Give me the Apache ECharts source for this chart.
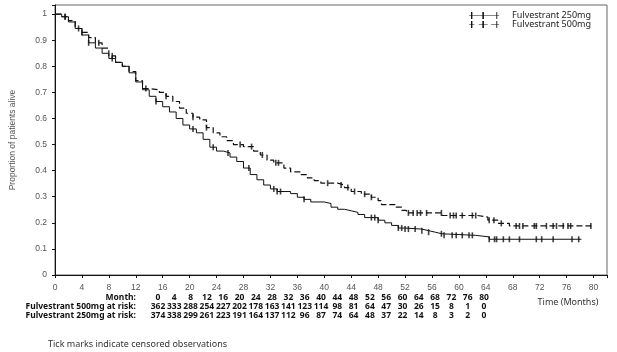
<!DOCTYPE html>
<html>
<head>
<meta charset="utf-8">
<script src="https://cdn.jsdelivr.net/npm/echarts@6/dist/echarts.min.js"></script>
<style>
  html, body { margin: 0; padding: 0; background: #fff; }
  #km { width: 617px; height: 352px; }
</style>
</head>
<body>
<div id="km"></div>
<script>
// Kaplan-Meier step points [month, proportion alive]
const steps250 = [[0,1],[1,0.99],[2,0.97],[3,0.945],[4,0.92],[5,0.89],[6,0.87],[7,0.85],[8,0.83],[9,0.815],
  [10,0.8],[11,0.775],[12,0.74],[13,0.71],[14,0.685],[15,0.665],[16,0.645],[17,0.625],[18,0.6],[19,0.575],
  [20,0.56],[21,0.545],[22,0.52],[23,0.49],[24,0.475],[25,0.468],[26,0.452],[27,0.435],[28,0.41],[29,0.385],
  [30,0.365],[31,0.345],[32,0.33],[33,0.32],[35,0.312],[36,0.298],[37,0.29],[38,0.28],[40,0.274],[41,0.26],
  [42,0.252],[43,0.246],[44,0.24],[45,0.232],[46,0.22],[48,0.21],[49,0.2],[50,0.19],[51,0.18],[52,0.176],
  [54.5,0.17],[55.5,0.164],[56.5,0.158],[57.5,0.152],[62.5,0.146],[64.5,0.137],[78.2,0.137]];
const steps500 = [[0,1],[1,0.99],[2,0.975],[3,0.945],[4,0.93],[5,0.91],[6,0.89],[7,0.87],[8,0.84],[9,0.815],
  [10,0.8],[11,0.78],[12,0.745],[13,0.715],[14,0.71],[15.5,0.7],[16.5,0.685],[17.5,0.665],[18.5,0.64],[19.5,0.62],
  [20.5,0.605],[21.5,0.595],[22.5,0.565],[23.5,0.545],[24.5,0.53],[25.5,0.515],[26.5,0.5],[28,0.492],[29.5,0.475],
  [30.5,0.46],[31.5,0.44],[32.5,0.43],[34,0.41],[35,0.395],[36.5,0.385],[37.5,0.372],[38.5,0.362],[39.5,0.352],
  [42,0.345],[43,0.335],[44,0.32],[45.5,0.31],[47,0.298],[48,0.285],[48.5,0.27],[50.5,0.26],[51.5,0.248],
  [52.2,0.238],[57.5,0.228],[62.8,0.222],[64.3,0.21],[65.8,0.198],[67.5,0.188],[79.8,0.188]];

// censored observation times (months)
const censor250 = [1.5,3.5,5,8.5,15,20.5,23.5,25.7,28.8,32.5,33,33.5,37,47,47.5,48,51,51.5,52,52.5,53.5,
  54.5,55.5,57.4,57.8,59,59.6,60.5,61.5,62,64.5,65.3,65.6,66.6,67.5,69,71.5,72.3,74,76.8,77.8];
const censor500 = [1.5,4,6.5,8.5,13.5,16.5,20.5,22.5,27.5,29.2,30.8,32.8,33.2,40.5,42.5,43.5,44.5,46,47,
  52.5,53.2,53.8,54.3,55.2,57.4,58.7,59.2,59.6,60.5,62,62.5,64.5,65.2,66.3,68.5,69,69.5,71.2,71.5,73,74,
  74.5,75.5,76.2,76.6,79.6];

// number at risk table
const riskMonths = [0,4,8,12,16,20,24,28,32,36,40,44,48,52,56,60,64,68,72,76,80];
const risk500 = [362,333,288,254,227,202,178,163,141,123,114,98,81,64,47,30,26,15,8,1,0];
const risk250 = [374,338,299,261,223,191,164,137,112,96,87,74,64,48,37,22,14,8,3,2,0];

const xTicks = [0,4,8,12,16,20,24,28,32,36,40,44,48,52,56,60,64,68,72,76,80];

function survivalAt(steps, t) {
  let s = steps[0][1];
  for (const p of steps) { if (p[0] <= t) s = p[1]; }
  return s;
}

const tableFont = '"Noto Sans", sans-serif';
const axisFont = '"Liberation Sans", Arial, sans-serif';
const cellFont = 'bold 8.5px ' + tableFont;

const graphics = [];
function addText(text, x, y, align, font, fill) {
  graphics.push({ type: 'text', style: { text: text, x: x, y: y, align: align, verticalAlign: 'middle',
    font: font, fill: fill } });
}
addText('Month:', 136, 298, 'right', cellFont, '#111');
addText('Fulvestrant 500mg at risk:', 136, 307, 'right', cellFont, '#111');
addText('Fulvestrant 250mg at risk:', 136, 316, 'right', cellFont, '#111');
riskMonths.forEach((m, i) => {
  const cx = 158 + i * 16.3;
  addText(String(m), cx, 298, 'center', cellFont, '#111');
  addText(String(risk500[i]), cx, 307, 'center', cellFont, '#111');
  addText(String(risk250[i]), cx, 316, 'center', cellFont, '#111');
});
addText('Time (Months)', 568, 302, 'center', '9px ' + tableFont, '#333');
addText('Tick marks indicate censored observations', 48, 344, 'left', '9px ' + tableFont, '#333');

const icon250 = 'path://M0,3.6h34v0.8h-34z M2,0h1.6v8h-1.6z M15,0h1.8v8h-1.8z M31,0h1v8h-1z';
const icon500 = 'path://M0,3.6h6v0.8h-6z M11,3.6h10v0.8h-10z M25,3.6h9v0.8h-9z M2,0h1.6v8h-1.6z M15,0h1.8v8h-1.8z M31,0h1v8h-1z';

const option = {
  animation: false,
  backgroundColor: '#fff',
  grid: { left: 49, top: 5, right: 10, bottom: 77, show: true, borderColor: '#666', borderWidth: 1 },
  legend: {
    right: 26, top: 11, orient: 'vertical', itemGap: 0, itemWidth: 34, itemHeight: 7, padding: 0,
    textStyle: { fontFamily: tableFont, fontSize: 9, color: '#222', lineHeight: 8, padding: [0, 0, 0, 6] },
    data: [
      { name: 'Fulvestrant 250mg', icon: icon250, itemStyle: { color: '#111' } },
      { name: 'Fulvestrant 500mg', icon: icon500, itemStyle: { color: '#111' } }
    ]
  },
  xAxis: {
    type: 'value', min: 0, max: 82, interval: 4,
    axisLine: { lineStyle: { color: '#111' } },
    axisTick: { length: 3, lineStyle: { color: '#111' } },
    splitLine: { show: false },
    axisLabel: {
      margin: 8, fontSize: 8.5, color: '#555', fontFamily: axisFont,
      formatter: v => (xTicks.indexOf(v) >= 0 ? String(v) : '')
    }
  },
  yAxis: {
    type: 'value', min: 0, max: 1.035, interval: 0.1,
    name: 'Proportion of patients alive', nameLocation: 'middle', nameGap: 38,
    nameTextStyle: { fontSize: 8.5, color: '#555', fontFamily: axisFont },
    axisLine: { show: true, lineStyle: { color: '#111' } },
    axisTick: { show: true, length: 3, lineStyle: { color: '#111' } },
    splitLine: { show: false },
    axisLabel: {
      margin: 8, fontSize: 8.5, color: '#555', fontFamily: axisFont,
      formatter: v => (v > 1.001 ? '' : String(Math.round(v * 10) / 10))
    }
  },
  series: [
    {
      name: 'Fulvestrant 250mg', type: 'line', step: 'end', symbol: 'none',
      lineStyle: { color: '#111', width: 1 }, itemStyle: { color: '#111' },
      data: steps250
    },
    {
      name: 'Fulvestrant 500mg', type: 'line', step: 'end', symbol: 'none',
      lineStyle: { color: '#111', width: 1.2, type: [6, 3] }, itemStyle: { color: '#111' },
      data: steps500
    },
    {
      name: 'censor250', type: 'scatter', symbol: 'rect', symbolSize: [1.6, 6],
      itemStyle: { color: '#111' }, silent: true,
      data: censor250.map(t => [t, survivalAt(steps250, t)])
    },
    {
      name: 'censor500', type: 'scatter', symbol: 'rect', symbolSize: [1.6, 6],
      itemStyle: { color: '#111' }, silent: true,
      data: censor500.map(t => [t, survivalAt(steps500, t)])
    }
  ],
  graphic: graphics
};

const chart = echarts.init(document.getElementById('km'), null, { renderer: 'canvas' });
chart.setOption(option);
</script>
</body>
</html>
